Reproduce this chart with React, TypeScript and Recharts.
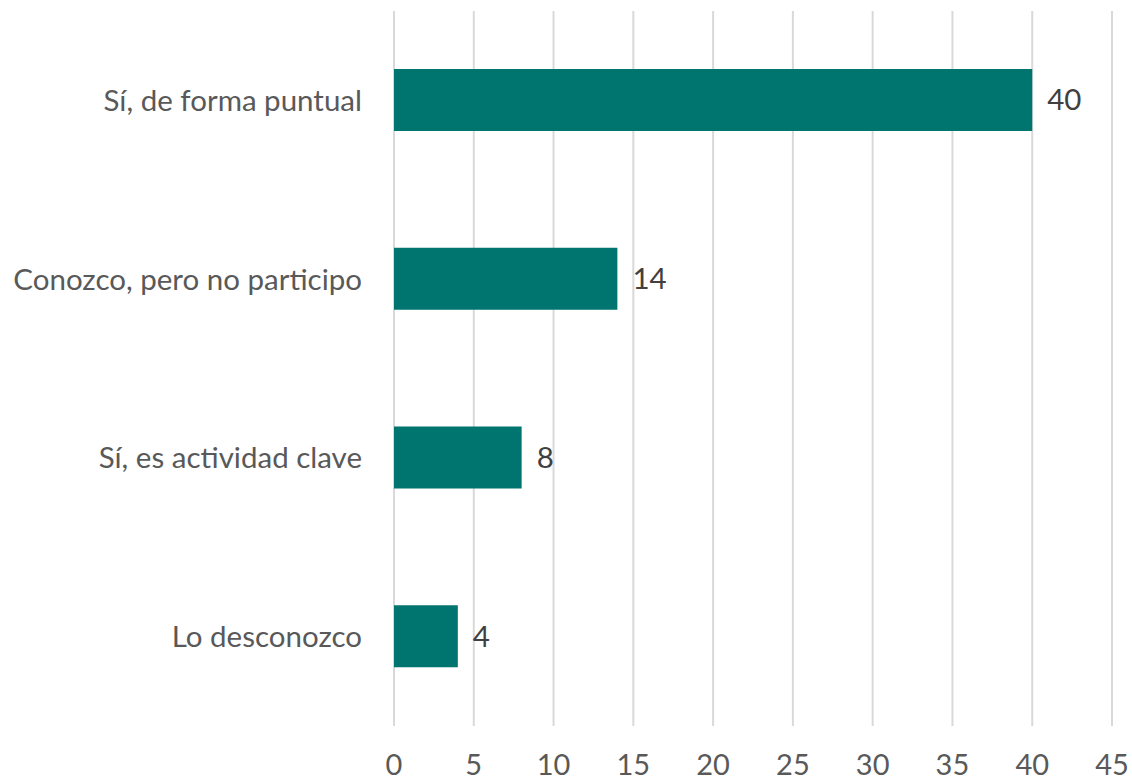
import React from "react";
import { BarChart, Bar, XAxis, YAxis, CartesianGrid, LabelList } from "recharts";

const categories = [
  "Sí, de forma puntual",
  "Conozco, pero no participo",
  "Sí, es actividad clave",
  "Lo desconozco",
];
const values = [40, 14, 8, 4];
const xTicks = [0, 5, 10, 15, 20, 25, 30, 35, 40, 45];

const data = categories.map((c, i) => ({ name: c, value: values[i] }));

const FONT = "Lato, 'Open Sans', sans-serif";
const FS = 29.5;

export default function App() {
  return (
    <div style={{ position: "absolute", left: 0, top: 0, width: 1132, height: 782, background: "#fff" }}>
      <BarChart
        width={1132}
        height={782}
        data={data}
        layout="vertical"
        margin={{ top: 11, right: 20, bottom: 0, left: 0 }}
        barCategoryGap={0}
      >
        <CartesianGrid horizontal={false} stroke="#d9d9d9" strokeWidth={2} />
        <XAxis
          type="number"
          domain={[0, 45]}
          ticks={xTicks}
          interval={0}
          axisLine={false}
          tickLine={false}
          tickSize={0}
          tickMargin={28}
          height={56}
          tick={{ fontSize: 29, fill: "#595959", fontFamily: FONT }}
        />
        <YAxis
          type="category"
          dataKey="name"
          width={394}
          axisLine={false}
          tickLine={false}
          tickSize={0}
          tickMargin={32}
          tick={{ fontSize: FS, fill: "#595959", fontFamily: FONT }}
        />
        <Bar dataKey="value" fill="#00746F" barSize={62} isAnimationActive={false}>
          <LabelList
            dataKey="value"
            position="right"
            offset={15}
            style={{ fontSize: FS, fill: "#404040", fontFamily: FONT }}
          />
        </Bar>
      </BarChart>
    </div>
  );
}
